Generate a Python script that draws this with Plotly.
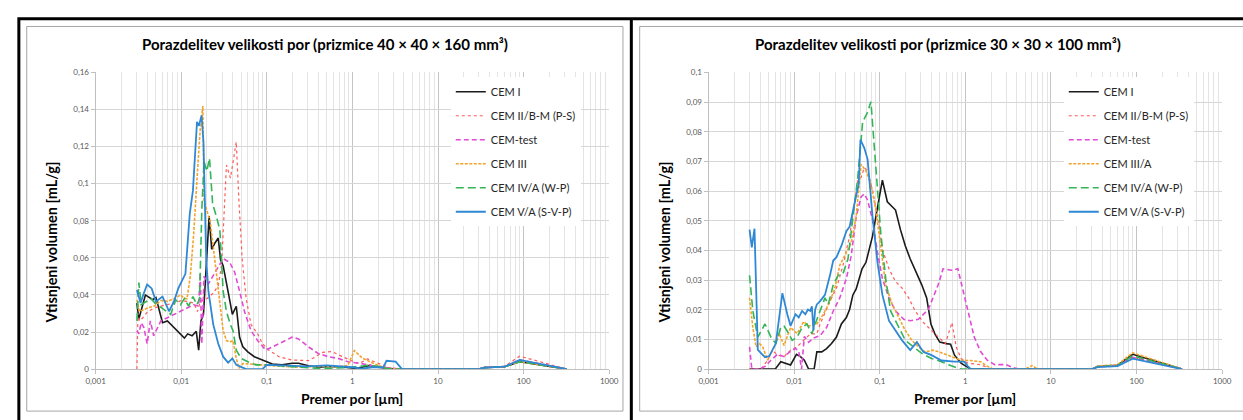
import plotly.graph_objects as go

W, H = 1243, 420

# ---------------- data: left panel (prizmice 40 x 40 x 160 mm3) ----------------
L_cem1_x = [0.00304, 0.0032, 0.00382, 0.00425, 0.00464, 0.00507, 0.00605, 0.0069, 0.00824, 0.00982, 0.0109, 0.0119,
            0.0134, 0.015, 0.016, 0.017, 0.0182, 0.0212, 0.0227, 0.0248, 0.0271, 0.0288, 0.0309, 0.0353, 0.0396, 0.044,
            0.0481, 0.0525, 0.06, 0.0715, 0.0891, 0.1, 0.116, 0.151, 0.197, 0.235, 0.307, 0.4, 0.569, 0.809, 1.055,
            1.3, 1.6, 2.0, 2.5, 3.2, 30, 35, 60, 90, 320]
L_cem1_y = [0.0356, 0.027, 0.040, 0.0386, 0.0374, 0.0386, 0.025, 0.026, 0.0225, 0.019, 0.0167, 0.019,
            0.018, 0.0204, 0.0102, 0.026, 0.0295, 0.0825, 0.0646, 0.068, 0.0707, 0.059, 0.0558, 0.0418, 0.0295, 0.0339,
            0.0172, 0.012, 0.0093, 0.0067, 0.0049, 0.004, 0.0028, 0.0023, 0.0032, 0.0032, 0.0018, 0.001, 0.0014, 0.001, 0.0005,
            0.001, 0.002, 0.001, 0.0005, 0.0, 0.0, 0.0008, 0.0013, 0.004, 0.0]

L_cem2_x = [0.00304, 0.00312, 0.00326, 0.00356, 0.00407, 0.00485, 0.00578, 0.0069, 0.00824, 0.00982, 0.0117, 0.014,
            0.0155, 0.0167, 0.0199, 0.0237, 0.0271, 0.0296, 0.0315, 0.0338, 0.0376, 0.0403, 0.044, 0.0472, 0.0516,
            0.0574, 0.0655, 0.0781, 0.0891, 0.106, 0.139, 0.197, 0.307, 0.35, 0.45, 0.569, 0.741, 0.966, 1.2, 1.5, 1.8,
            2.3, 2.8, 3.5, 30, 35, 60, 90, 320]
L_cem2_y = [0.0, 0.030, 0.026, 0.0277, 0.031, 0.033, 0.034, 0.0347, 0.0356, 0.0368, 0.0365, 0.0356,
            0.031, 0.0365, 0.038, 0.041, 0.045, 0.056, 0.0856, 0.110, 0.103, 0.112, 0.1225, 0.091, 0.0593,
            0.038, 0.024, 0.019, 0.0137, 0.0102, 0.0067, 0.0049, 0.0046, 0.006, 0.009, 0.0095, 0.007, 0.0046, 0.003, 0.0055, 0.004,
            0.002, 0.0005, 0.0, 0.0, 0.001, 0.0015, 0.007, 0.0]

L_test_x = [0.00304, 0.0032, 0.00341, 0.00366, 0.0040, 0.00436, 0.00477, 0.00507, 0.00578, 0.0069, 0.00824, 0.00982,
            0.0117, 0.014, 0.016, 0.0167, 0.0174, 0.0185, 0.0208, 0.0237, 0.0271, 0.0309, 0.0369, 0.0421, 0.0481, 0.0549,
            0.0655, 0.0781, 0.0974, 0.116, 0.151, 0.197, 0.235, 0.307, 0.4, 0.521, 0.678, 0.884, 1.258, 1.6, 2.2, 3.0,
            3.6, 30, 35, 60, 90, 320]
L_test_y = [0.0207, 0.019, 0.025, 0.0225, 0.0137, 0.026, 0.018, 0.0207, 0.026, 0.0277, 0.0295, 0.031,
            0.033, 0.0347, 0.034, 0.052, 0.0137, 0.050, 0.046, 0.0505, 0.0558, 0.0596, 0.0575, 0.0523, 0.042, 0.031,
            0.0207, 0.0154, 0.0102, 0.012, 0.0146, 0.0172, 0.0163, 0.012, 0.0084, 0.0067, 0.0058, 0.004, 0.003, 0.002, 0.001, 0.0005,
            0.0, 0.0, 0.001, 0.0013, 0.005, 0.0]

L_cem3_x = [0.00304, 0.00326, 0.00407, 0.00485, 0.00578, 0.0069, 0.00824, 0.00982, 0.0109, 0.0117, 0.0128, 0.014,
            0.0155, 0.0167, 0.0179, 0.0185, 0.0199, 0.0217, 0.0237, 0.0271, 0.0309, 0.0338, 0.0369, 0.0403, 0.044,
            0.0472, 0.0525, 0.0747, 0.1, 0.151, 0.235, 0.4, 0.678, 0.884, 1.055, 1.3, 1.6, 2.0, 2.5, 3.0, 30, 35, 60, 90, 320]
L_cem3_y = [0.0374, 0.031, 0.033, 0.034, 0.037, 0.0365, 0.038, 0.040, 0.038, 0.038, 0.0505, 0.073,
            0.1067, 0.1295, 0.1418, 0.0909, 0.0856, 0.080, 0.066, 0.0418, 0.0207, 0.0154, 0.0146, 0.0154, 0.0058,
            0.0005, 0.003, 0.0025, 0.002, 0.0015, 0.001, 0.0015, 0.0012, 0.002, 0.010, 0.006, 0.004, 0.002, 0.0005, 0.0,
            0.0, 0.0009, 0.0013, 0.004, 0.0]

L_cem4_x = [0.00304, 0.0032, 0.00341, 0.00389, 0.00444, 0.00494, 0.00553, 0.00632, 0.00754, 0.00861, 0.00982, 0.0109,
            0.0122, 0.0137, 0.0153, 0.0164, 0.0174, 0.0185, 0.0199, 0.0214, 0.0233, 0.0259, 0.0283, 0.0309, 0.0338,
            0.0376, 0.0403, 0.044, 0.0502, 0.06, 0.0747, 0.0974, 0.151, 0.235, 0.37, 0.6, 0.966, 1.5, 2.0, 2.5, 3.0,
            30, 35, 60, 90, 320]
L_cem4_y = [0.026, 0.0467, 0.0347, 0.0365, 0.038, 0.0356, 0.034, 0.032, 0.0295, 0.0374, 0.0347, 0.038,
            0.034, 0.0391, 0.0347, 0.038, 0.0856, 0.112, 0.1067, 0.1137, 0.089, 0.082, 0.075, 0.042, 0.031,
            0.024, 0.0207, 0.0102, 0.0058, 0.004, 0.0023, 0.0023, 0.0018, 0.0014, 0.0005, 0.0005, 0.001, 0.002, 0.0015, 0.0005, 0.0,
            0.0, 0.0008, 0.0013, 0.004, 0.0]

L_cem5_x = [0.00304, 0.00335, 0.00366, 0.0040, 0.00452, 0.00507, 0.00605, 0.00721, 0.00824, 0.00924, 0.0112, 0.0126,
            0.0137, 0.0153, 0.0161, 0.0173, 0.0182, 0.0196, 0.0208, 0.0237, 0.0271, 0.0309, 0.0353, 0.0396, 0.044,
            0.0502, 0.0574, 0.0891, 0.1, 0.15, 0.3, 0.5, 0.8, 1.0, 1.3, 1.7, 2.3, 2.5, 3.2, 3.8, 30, 35, 60, 90, 320]
L_cem5_y = [0.0426, 0.0356, 0.0409, 0.0456, 0.0435, 0.0365, 0.0391, 0.0312, 0.0365, 0.0435, 0.0514, 0.0839,
            0.0961, 0.1333, 0.1312, 0.1368, 0.1225, 0.059, 0.042, 0.024, 0.0137, 0.0067, 0.0035, 0.0058, 0.0023,
            0.001, 0.0, 0.0, 0.0023, 0.002, 0.0015, 0.002, 0.0015, 0.001, 0.0002, 0.001, 0.001, 0.0045, 0.004, 0.0,
            0.0, 0.0008, 0.0013, 0.005, 0.0]

# ---------------- data: right panel (prizmice 30 x 30 x 100 mm3) ----------------
R_cem1_x = [0.00301, 0.006, 0.00697, 0.00795, 0.00907, 0.01064, 0.01183, 0.01315, 0.01475, 0.0171, 0.0184, 0.021,
            0.0239, 0.0273, 0.0312, 0.0356, 0.0407, 0.0444, 0.0485, 0.053, 0.0579, 0.0621, 0.069, 0.0754, 0.0823, 0.09,
            0.1, 0.1073, 0.1225, 0.1398, 0.1528, 0.1743, 0.199, 0.227, 0.2593, 0.3094, 0.353, 0.396, 0.44, 0.502, 0.6,
            0.672, 0.747, 0.891, 1.0, 1.162, 30, 35, 60, 90, 340]
R_cem1_y = [0.0, 0.0, 0.0025, 0.002, 0.0014, 0.005, 0.0042, 0.003, 0.0, 0.0, 0.0058, 0.0058,
            0.0069, 0.0086, 0.0108, 0.0152, 0.0174, 0.0201, 0.025, 0.027, 0.0305, 0.0338, 0.036, 0.040, 0.0448, 0.0514,
            0.0591, 0.0637, 0.0564, 0.0547, 0.0536, 0.047, 0.0415, 0.0371, 0.0333, 0.0284, 0.024, 0.0152, 0.0119, 0.0091, 0.0086,
            0.0084, 0.0047, 0.002, 0.0011, 0.0, 0.0, 0.0009, 0.0013, 0.005, 0.0]

R_cem2_x = [0.00301, 0.0041, 0.0049, 0.00559, 0.00638, 0.0076, 0.00907, 0.01083, 0.0129, 0.01475, 0.0161, 0.0184,
            0.0201, 0.0262, 0.0312, 0.0372, 0.0444, 0.0507, 0.0553, 0.0605, 0.066, 0.0721, 0.0823, 0.094, 0.1073, 0.128,
            0.1528, 0.1822, 0.2175, 0.2593, 0.3233, 0.403, 0.502, 0.584, 0.697, 0.781, 0.891, 1.064, 1.5, 2.0,
            30, 35, 60, 90, 340]
R_cem2_y = [0.0, 0.0, 0.003, 0.0064, 0.0047, 0.0042, 0.0064, 0.0075, 0.0097, 0.0113, 0.0119, 0.0119,
            0.0152, 0.0229, 0.0273, 0.035, 0.0448, 0.0569, 0.0635, 0.0646, 0.0679, 0.0668, 0.0602, 0.0514, 0.0404, 0.0338,
            0.0295, 0.0273, 0.024, 0.0196, 0.0157, 0.013, 0.0102, 0.0086, 0.0157, 0.0075, 0.0036, 0.002, 0.0015, 0.0,
            0.0, 0.0009, 0.0013, 0.004, 0.0]

R_test_x = [0.00301, 0.0032, 0.00393, 0.00456, 0.00535, 0.00638, 0.0076, 0.00907, 0.01036, 0.01131, 0.0122, 0.01315,
            0.01475, 0.0168, 0.0201, 0.0239, 0.0286, 0.0341, 0.0407, 0.0464, 0.053, 0.0605, 0.066, 0.0721, 0.0823, 0.094,
            0.1073, 0.128, 0.1528, 0.1905, 0.227, 0.283, 0.369, 0.481, 0.549, 0.684, 0.817, 0.974, 1.112, 1.269, 1.5,
            1.8, 2.2, 3.0, 3.6, 4.2, 30, 35, 60, 90, 340]
R_test_y = [0.0075, 0.0, 0.0, 0.0009, 0.003, 0.005, 0.0042, 0.006, 0.007, 0.006, 0.0, 0.011,
            0.009, 0.0105, 0.0113, 0.014, 0.0196, 0.024, 0.0305, 0.0382, 0.0514, 0.058, 0.0591, 0.0569, 0.0503, 0.0393,
            0.0305, 0.024, 0.0196, 0.0168, 0.0163, 0.0168, 0.0201, 0.0284, 0.0338, 0.0333, 0.0338, 0.025, 0.0174, 0.0108, 0.006,
            0.003, 0.0015, 0.0015, 0.0005, 0.0, 0.0, 0.0008, 0.0012, 0.004, 0.0]

R_cem3_x = [0.00301, 0.00329, 0.00359, 0.00393, 0.00429, 0.0049, 0.00535, 0.0061, 0.00667, 0.0076, 0.00907, 0.01083,
            0.0129, 0.01475, 0.0184, 0.0219, 0.0262, 0.0299, 0.0341, 0.0407, 0.0464, 0.053, 0.0605, 0.069, 0.0788, 0.09,
            0.1027, 0.1173, 0.1398, 0.1668, 0.199, 0.2375, 0.283, 0.338, 0.421, 0.525, 0.684, 0.891, 1.162, 1.5, 1.8,
            2.1, 5.0, 6.0, 7.0, 30, 35, 60, 90, 340]
R_cem3_y = [0.024, 0.014, 0.0075, 0.0086, 0.0075, 0.003, 0.0053, 0.0086, 0.012, 0.008, 0.014, 0.012,
            0.016, 0.0145, 0.0152, 0.0185, 0.0229, 0.0273, 0.035, 0.0393, 0.0426, 0.0514, 0.069, 0.0668, 0.0624, 0.0536,
            0.0415, 0.0284, 0.0218, 0.0174, 0.013, 0.0097, 0.0075, 0.0058, 0.0064, 0.0055, 0.0042, 0.003, 0.0029, 0.0025, 0.001,
            0.0, 0.0, 0.0012, 0.0, 0.0, 0.001, 0.0015, 0.0055, 0.0]

R_cem4_x = [0.00301, 0.00329, 0.00376, 0.00429, 0.00456, 0.00535, 0.0061, 0.00697, 0.0076, 0.00868, 0.00948, 0.01083,
            0.01236, 0.0141, 0.0161, 0.0176, 0.0201, 0.0229, 0.025, 0.0286, 0.0326, 0.0372, 0.0425, 0.0485, 0.0553,
            0.0631, 0.0721, 0.0788, 0.086, 0.094, 0.1027, 0.1173, 0.1338, 0.1596, 0.199, 0.248, 0.3094, 0.403, 0.525,
            0.684, 0.891, 30, 35, 60, 90, 340]
R_cem4_y = [0.0316, 0.0196, 0.0108, 0.014, 0.0152, 0.0108, 0.0086, 0.014, 0.0145, 0.0119, 0.0097, 0.0108,
            0.014, 0.0152, 0.0119, 0.0152, 0.0196, 0.024, 0.0218, 0.0284, 0.0316, 0.0322, 0.0371, 0.0514, 0.0646,
            0.0833, 0.0866, 0.0901, 0.0756, 0.0613, 0.0459, 0.0305, 0.0196, 0.0152, 0.0097, 0.0075, 0.0053, 0.0036, 0.0025,
            0.0011, 0.0, 0.0, 0.0008, 0.0012, 0.0045, 0.0]

R_cem5_x = [0.00301, 0.0032, 0.00344, 0.00376, 0.00456, 0.00512, 0.0061, 0.00728, 0.00831, 0.00907, 0.01036, 0.01131,
            0.01236, 0.0135, 0.0145, 0.0154, 0.0161, 0.0168, 0.0176, 0.0184, 0.0201, 0.0229, 0.0262, 0.0286, 0.0312,
            0.0356, 0.0407, 0.0444, 0.0507, 0.0568, 0.0594, 0.066, 0.0721, 0.0823, 0.094, 0.1073, 0.128, 0.1528, 0.1822,
            0.227, 0.271, 0.3233, 0.403, 0.525, 0.747, 0.974, 1.064, 1.162, 30, 35, 60, 90, 340]
R_cem5_y = [0.047, 0.041, 0.0473, 0.0065, 0.004, 0.0044, 0.0086, 0.0256, 0.0185, 0.0146, 0.0185, 0.0174,
            0.0196, 0.0185, 0.0201, 0.0196, 0.0212, 0.013, 0.0201, 0.0218, 0.0229, 0.025, 0.0316, 0.0366, 0.0377,
            0.0415, 0.0465, 0.048, 0.0558, 0.0624, 0.0773, 0.0745, 0.0707, 0.0514, 0.036, 0.025, 0.0163, 0.013, 0.0097,
            0.0064, 0.0091, 0.0058, 0.0047, 0.0029, 0.0025, 0.0025, 0.001, 0.0, 0.0, 0.0007, 0.001, 0.0035, 0.0]

# ---------------- labels ----------------
names_left = ["CEM I", "CEM II/B-M (P-S)", "CEM-test", "CEM III", "CEM IV/A (W-P)", "CEM V/A (S-V-P)"]
names_right = ["CEM I", "CEM II/B-M (P-S)", "CEM-test", "CEM III/A", "CEM IV/A (W-P)", "CEM V/A (S-V-P)"]
title_left = "Porazdelitev velikosti por (prizmice 40 × 40 × 160 mm³)"
title_right = "Porazdelitev velikosti por (prizmice 30 × 30 × 100 mm³)"
x_title = "Premer por [µm]"
y_title = "Vtisnjeni volumen [mL/g]"
x_tickvals = [0.001, 0.01, 0.1, 1, 10, 100, 1000]
x_ticktext = ["0,001", "0,01", "0,1", "1", "10", "100", "1000"]
yl_tickvals = [0, 0.02, 0.04, 0.06, 0.08, 0.1, 0.12, 0.14, 0.16]
yl_ticktext = ["0", "0,02", "0,04", "0,06", "0,08", "0,1", "0,12", "0,14", "0,16"]
yr_tickvals = [0, 0.01, 0.02, 0.03, 0.04, 0.05, 0.06, 0.07, 0.08, 0.09, 0.1]
yr_ticktext = ["0", "0,01", "0,02", "0,03", "0,04", "0,05", "0,06", "0,07", "0,08", "0,09", "0,1"]

# ---------------- styles ----------------
styles = [
    dict(color="#1a1a1a", width=1.6, dash="solid"),
    dict(color="#ff5b5b", width=1.2, dash="dot"),
    dict(color="#e24bd5", width=1.6, dash="5px,3px"),
    dict(color="#f2a42a", width=1.6, dash="3px,1.5px"),
    dict(color="#33b557", width=1.6, dash="8px,4px"),
    dict(color="#2f88d4", width=1.8, dash="solid"),
]

FONT = "Lato"
minor_vals = [m * 10.0 ** e for e in range(-3, 3) for m in range(2, 10)]

fig = go.Figure()
left_data = [(L_cem1_x, L_cem1_y), (L_cem2_x, L_cem2_y), (L_test_x, L_test_y),
             (L_cem3_x, L_cem3_y), (L_cem4_x, L_cem4_y), (L_cem5_x, L_cem5_y)]
right_data = [(R_cem1_x, R_cem1_y), (R_cem2_x, R_cem2_y), (R_test_x, R_test_y),
              (R_cem3_x, R_cem3_y), (R_cem4_x, R_cem4_y), (R_cem5_x, R_cem5_y)]

for i, ((xs, ys), nm) in enumerate(zip(left_data, names_left)):
    fig.add_trace(go.Scatter(x=xs, y=ys, name=nm, mode="lines", line=styles[i],
                             xaxis="x", yaxis="y", legend="legend", legendgroup="L%d" % i))
for i, ((xs, ys), nm) in enumerate(zip(right_data, names_right)):
    fig.add_trace(go.Scatter(x=xs, y=ys, name=nm, mode="lines", line=styles[i],
                             xaxis="x2", yaxis="y2", legend="legend2", legendgroup="R%d" % i))

def px(p):
    return p / W

def py(p):
    return 1 - p / H

xcommon = dict(type="log", range=[-3, 3], tickmode="array", tickvals=x_tickvals, ticktext=x_ticktext,
               showgrid=True, gridcolor="#c4c4c4", gridwidth=1,
               minor=dict(tickmode="array", tickvals=minor_vals, showgrid=True, gridcolor="#e4e4e4", ticks=""),
               showline=True, linecolor="#bfbfbf", linewidth=1, ticks="outside", ticklen=4, tickcolor="#bfbfbf",
               tickfont=dict(family=FONT, size=8, color="#595959"), zeroline=False, fixedrange=True)
ycommon = dict(tickmode="array", showgrid=True, gridcolor="#d6d6d6", gridwidth=1,
               showline=True, linecolor="#bfbfbf", linewidth=1, ticks="outside", ticklen=4, tickcolor="#bfbfbf",
               tickfont=dict(family=FONT, size=8, color="#595959"), zeroline=False, fixedrange=True)

legcommon = dict(bgcolor="white", borderwidth=0, font=dict(family=FONT, size=11, color="#262626"),
                 tracegroupgap=5, itemwidth=30, xanchor="left", yanchor="top", traceorder="grouped")

fig.update_layout(
    width=W, height=H, autosize=False,
    margin=dict(l=0, r=0, t=0, b=0),
    paper_bgcolor="white", plot_bgcolor="white",
    font=dict(family=FONT),
    xaxis=dict(domain=[px(87), px(609)], anchor="y", **xcommon),
    yaxis=dict(domain=[py(373), py(69)], anchor="x", range=[0, 0.16], tickvals=yl_tickvals, ticktext=yl_ticktext, **ycommon),
    xaxis2=dict(domain=[px(710), px(1232)], anchor="y2", **xcommon),
    yaxis2=dict(domain=[py(373), py(69)], anchor="x2", range=[0, 0.1], tickvals=yr_tickvals, ticktext=yr_ticktext, **ycommon),
    legend=dict(x=px(448), y=py(74), **legcommon),
    legend2=dict(x=px(1071), y=py(74), **legcommon),
    showlegend=True,
)

# frames (table borders and chart-area borders)
fig.add_shape(type="rect", xref="paper", yref="paper", x0=px(9), x1=px(1260), y0=py(14), y1=py(440),
              line=dict(color="black", width=3), layer="above")
fig.add_shape(type="line", xref="paper", yref="paper", x0=px(631.5), x1=px(631.5), y0=py(14), y1=py(440),
              line=dict(color="black", width=3), layer="above")
fig.add_shape(type="rect", xref="paper", yref="paper", x0=px(17), x1=px(623), y0=py(22), y1=py(416),
              line=dict(color="#a6a6a6", width=1), layer="above")
fig.add_shape(type="rect", xref="paper", yref="paper", x0=px(640), x1=px(1262), y0=py(22), y1=py(416),
              line=dict(color="#a6a6a6", width=1), layer="above")

def ann(text, x, y, size, angle=0):
    fig.add_annotation(text="<b>%s</b>" % text, x=px(x), y=py(y), xref="paper", yref="paper",
                       showarrow=False, textangle=angle, xanchor="center", yanchor="middle",
                       font=dict(family=FONT, size=size, color="#000000"))

ann(title_left, 320, 40, 15)
ann(title_right, 943, 40, 15)
ann(x_title, 348, 403, 14)
ann(x_title, 971, 403, 14)
ann(y_title, 42, 243, 14.5, -90)
ann(y_title, 665, 243, 14.5, -90)

fig.write_html("out.html", config={"displayModeBar": False},
               post_script="document.body.style.margin='0';document.body.style.overflow='hidden';")
